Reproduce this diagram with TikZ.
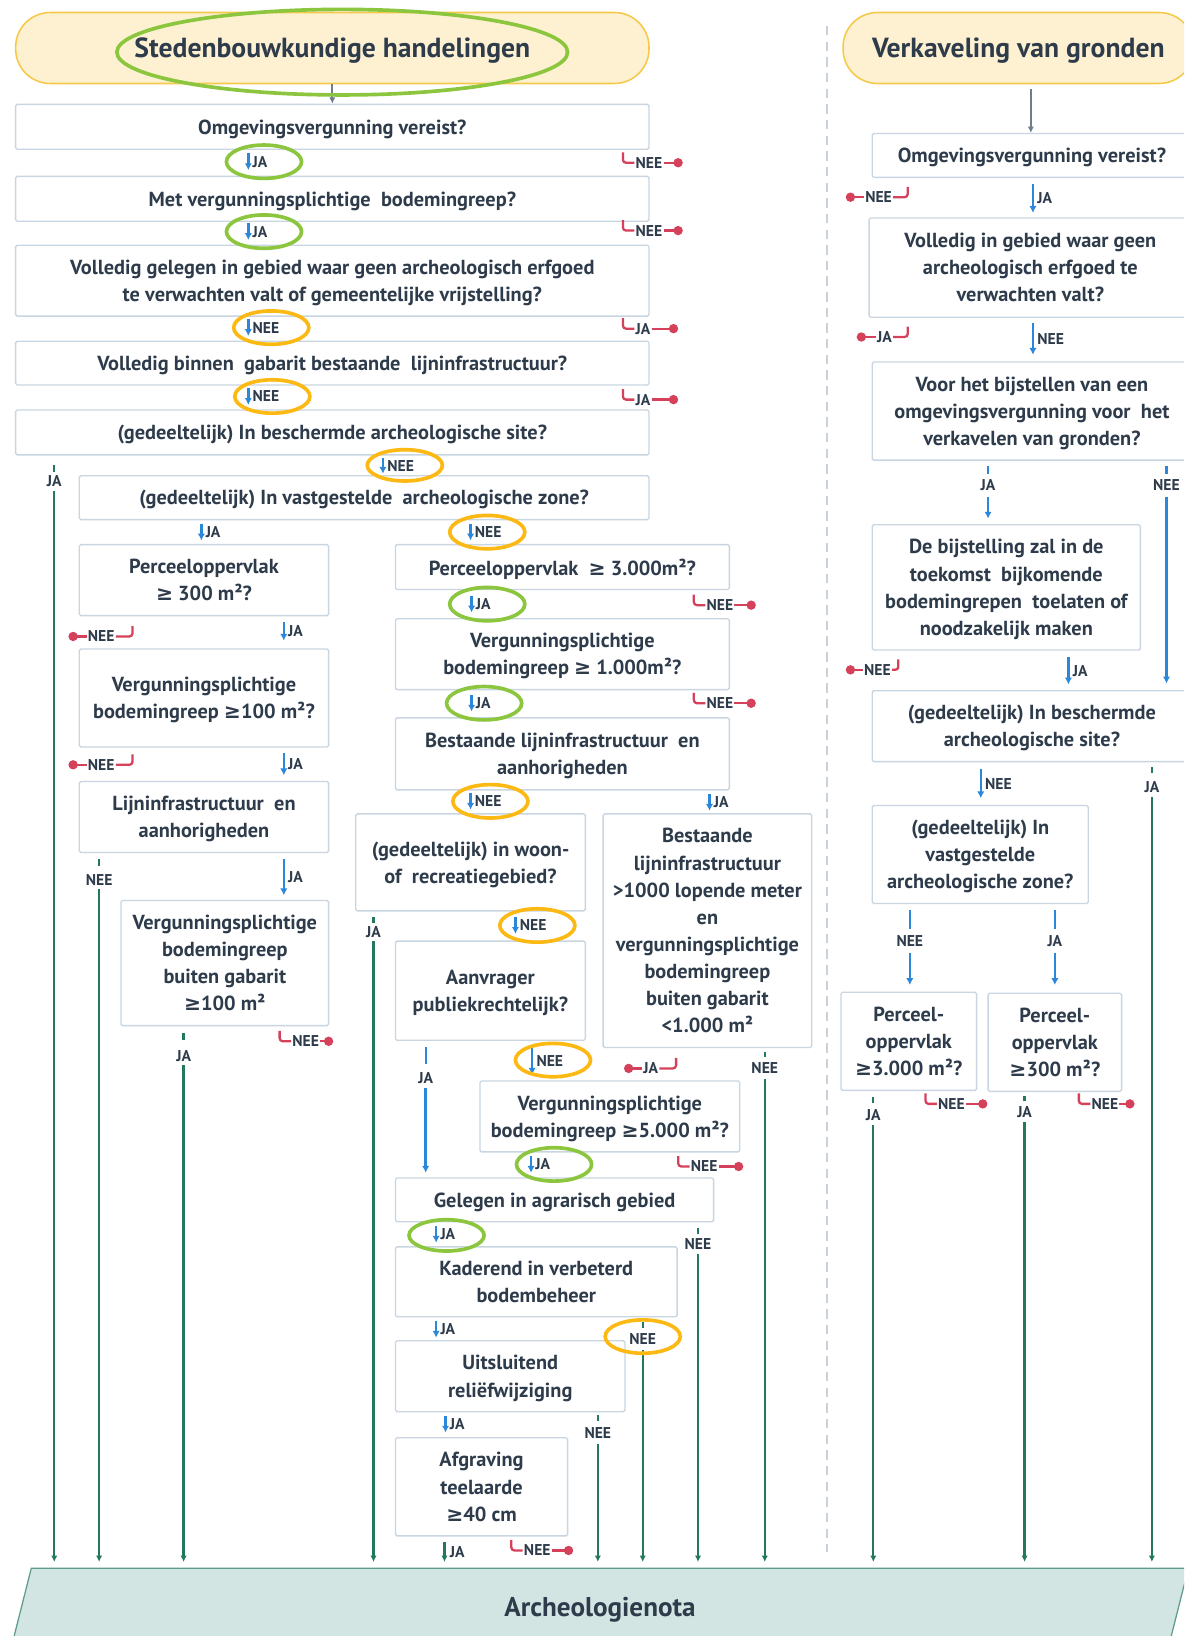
\documentclass[tikz,border=0pt]{standalone}
\usepackage{fontspec}
\setmainfont{PT Sans}
\newfontfamily\dvfont{DejaVu Sans}
\usetikzlibrary{arrows.meta}
\definecolor{txt}{HTML}{2E3B4B}
\definecolor{boxc}{HTML}{C9D5E1}
\definecolor{blu}{HTML}{2B87DA}
\definecolor{rd}{HTML}{D5415B}
\definecolor{gr}{HTML}{22795F}
\definecolor{hfill}{HTML}{FDF1D1}
\definecolor{hdraw}{HTML}{F6C94A}
\definecolor{annG}{HTML}{8CC63E}
\definecolor{annO}{HTML}{FDB913}
\definecolor{notaf}{HTML}{D3E5E2}
\definecolor{notad}{HTML}{5E9C8B}
\definecolor{dashc}{HTML}{C9D1DA}
\definecolor{grayar}{HTML}{6E7C8B}
\newcommand\GE{{\dvfont\bfseries\char"2265}}
\newcommand\dsp{\ \ }
\tikzset{
 box/.style={draw=boxc, line width=1.3pt, fill=white, rounded corners=1.5pt, align=center, inner sep=0pt, text depth=0pt, text=txt, font=\bfseries\fontsize{19.5}{26}\selectfont},
 lbl/.style={inner sep=1pt, text=txt, font=\bfseries\fontsize{15}{16}\selectfont},
 bluea/.style={draw=blu, line width=2.4pt, -{Latex[length=6.5pt,width=7pt]}},
 blueline/.style={draw=blu, line width=2.2pt},
 greenl/.style={draw=gr, line width=2.2pt},
 greena/.style={draw=gr, line width=2.2pt, -{Latex[length=6pt,width=6pt]}},
 redl/.style={draw=rd, line width=2.2pt, rounded corners=3pt},
 reddot/.style={circle, fill=rd, inner sep=0pt, minimum size=9pt},
 annog/.style={draw=annG, line width=3.5pt},
 annoo/.style={draw=annO, line width=3.5pt},
 header/.style={draw=hdraw, fill=hfill, line width=1.5pt, rounded corners=33pt, text depth=0pt, text=txt, font=\bfseries\fontsize{26.5}{30}\selectfont},
 grayarrow/.style={draw=grayar, line width=1.8pt, -{Latex[length=6pt,width=6pt]}},
}
% box: name, x1, y1, x2, y2, text
\newcommand\FBox[6]{\node[box, minimum width=#4-#2, minimum height=#5-#3] (#1) at ({(#2+#4)/2},{(#3+#5)/2}) {#6};}
% red right hook: name, hook x, y, text, line length
\newcommand\RedR[5]{%
 \draw[redl] (#2,#3-10) -- (#2,#3) -- (#2+11,#3);
 \node[lbl,anchor=west] (#1) at (#2+11,#3) {#4};
 \draw[redl] (#1.east) -- ++(#5,0) node[reddot] (#1d) {};}
% red left hook: name, hook x, y, text, line length, horizontal length
\newcommand\RedL[6]{%
 \draw[redl] (#2,#3-10) -- (#2,#3) -- (#2-#6,#3);
 \node[lbl,anchor=east] (#1) at (#2-#6,#3) {#4};
 \draw[redl] (#1.west) -- ++(-#5,0) node[reddot] (#1d) {};}
% blue arrow with label at right: name, x, y1, y2, text
\newcommand\BlueL[5]{%
 \draw[bluea] (#2,#3) -- (#2,#4);
 \node[lbl,anchor=west] (#1) at (#2+3,{(#3+#4)/2}) {#5};}
% blue tick, label, arrow: name,x,t1,t2,ty,a1,a2,text
\newcommand\BlueM[8]{%
 \draw[blueline] (#2,#3) -- (#2,#4);
 \node[lbl] (#1) at (#2,#5) {#8};
 \draw[bluea] (#2,#6) -- (#2,#7);}
% green tick, label, long arrow: name,x,t1,t2,ty,a1,text
\newcommand\GreenM[7]{%
 \draw[greenl] (#2,#3) -- (#2,#4);
 \node[lbl] (#1) at (#2,#5) {#7};
 \draw[greena] (#2,#6) -- (#2,0 |- ntop);}
\begin{document}
\begin{tikzpicture}[x=1pt,y=-1pt]
\useasboundingbox (0,0) rectangle (1135,1568);
\clip (0,0) rectangle (1135,1568);
\fill[white] (0,0) rectangle (1135,1568);
\coordinate (ntop) at (0,1497);
% dashed separator
\draw[dashc, line width=2pt, dash pattern=on 9pt off 6pt] (793,25) -- (793,1487);
% nota
\fill[notaf] (30,1503) -- (1139,1503) -- (1117,1590) -- (8,1590) -- cycle;
\draw[notad, line width=1.2pt] (8,1590) -- (30,1503) -- (1139,1503) -- (1117,1590);
\node[text=txt, text depth=0pt, font=\bfseries\fontsize{26}{30}\selectfont] (nota) at (575,1540) {Archeologienota};
% headers
\node[header, minimum width=607, minimum height=68] (h1) at (318.5,46) {Stedenbouwkundige handelingen};
\node[header, minimum width=336, minimum height=68] (h2) at (976,46) {Verkaveling van gronden};
% left column boxes
\FBox{b1}{15}{100}{622}{143}{Omgevingsvergunning vereist?}
\FBox{b2}{15}{169}{622}{212}{Met vergunningsplichtige\dsp bodemingreep?}
\FBox{b3}{15}{235}{622}{303}{Volledig gelegen in gebied waar geen archeologisch erfgoed\\te verwachten valt of gemeentelijke vrijstelling?}
\FBox{b4}{15}{327}{622}{369}{Volledig binnen\dsp gabarit bestaande\dsp lijninfrastructuur?}
\FBox{b5}{15}{393}{622}{436}{(gedeeltelijk) In beschermde archeologische site?}
\FBox{b6}{76}{456}{622}{498}{(gedeeltelijk) In vastgestelde\dsp archeologische zone?}
\FBox{l1}{76}{522}{315}{590}{Perceeloppervlak\\\GE\ 300 m²?}
\FBox{l2}{76}{622}{315}{716}{Vergunningsplichtige\\bodemingreep \GE100 m²?}
\FBox{l3}{76}{749}{315}{817}{Lijninfrastructuur\dsp en\\aanhorigheden}
\FBox{l4}{116}{863}{315}{983}{Vergunningsplichtige\\bodemingreep\\buiten gabarit\\\GE100 m²}
\FBox{m1}{379}{522}{699}{565}{Perceeloppervlak\dsp \GE\ 3.000m²?}
\FBox{m2}{379}{593}{699}{661}{Vergunningsplichtige\\bodemingreep \GE\ 1.000m²?}
\FBox{m3}{379}{688}{699}{757}{Bestaande lijninfrastructuur\dsp en\\aanhorigheden}
\FBox{m4}{341}{780}{561}{873}{(gedeeltelijk) in woon-\\of\dsp recreatiegebied?}
\FBox{m5}{578}{780}{778}{1004}{Bestaande\\lijninfrastructuur\\>1000 lopende meter\\en\\vergunningsplichtige\\bodemingreep\\buiten gabarit\\<1.000 m²}
\FBox{m6}{379}{902}{561}{997}{Aanvrager\\publiekrechtelijk?}
\FBox{m7}{460}{1036}{709}{1104}{Vergunningsplichtige\\bodemingreep \GE5.000 m²?}
\FBox{m8}{379}{1129}{684}{1171}{Gelegen in agrarisch gebied}
\FBox{m9}{379}{1195}{649}{1262}{Kaderend in verbeterd\\bodembeheer}
\FBox{m10}{379}{1285}{599}{1353}{Uitsluitend\\reliëfwijziging}
\FBox{m11}{379}{1378}{544}{1472}{Afgraving\\teelaarde\\\GE40 cm}
% right column boxes
\FBox{r1}{836}{128}{1142}{170}{Omgevingsvergunning vereist?}
\FBox{r2}{833}{209}{1142}{304}{Volledig in gebied waar geen\\archeologisch erfgoed te\\verwachten valt?}
\FBox{r3}{836}{347}{1142}{441}{Voor het bijstellen van een\\omgevingsvergunning voor\dsp het\\verkavelen van gronden?}
\FBox{r4}{836}{503}{1093}{623}{De bijstelling zal in de\\toekomst\dsp bijkomende\\bodemingrepen\dsp toelaten of\\noodzakelijk maken}
\FBox{r5}{836}{662}{1142}{730}{(gedeeltelijk) In beschermde\\archeologische site?}
\FBox{r6}{836}{772}{1043}{866}{(gedeeltelijk) In\\vastgestelde\\archeologische zone?}
\FBox{r7}{806}{951}{936}{1045}{Perceel-\\oppervlak\\\GE3.000 m²?}
\FBox{r8}{947}{952}{1075}{1046}{Perceel-\\oppervlak\\\GE300 m²?}
% gray arrows from headers
\draw[grayarrow] (h1.south) -- (b1.north);
\draw[grayarrow] (988,85) -- (988,0 |- r1.north);
% blue small arrows with labels
\BlueL{j1}{238}{147}{163}{JA}
\BlueL{j2}{238}{214}{230}{JA}
\BlueL{j3}{238}{306}{322}{NEE}
\BlueL{j4}{238}{372}{388}{NEE}
\BlueL{j5}{367}{439}{454}{NEE}
\BlueL{j6}{193}{502}{518}{JA}
\BlueL{j7}{451}{502}{518}{NEE}
\BlueL{j8}{452}{571}{587}{JA}
\BlueL{j9}{452}{666}{682}{JA}
\BlueL{j10}{451}{760}{776}{NEE}
\BlueL{j11}{680}{761}{777}{JA}
\BlueL{j12}{494}{879}{895}{NEE}
\BlueL{j13}{510}{1003}{1030}{NEE}
\BlueL{j14}{509}{1108}{1124}{JA}
\BlueL{j15}{418}{1175}{1191}{JA}
\BlueL{j16}{418}{1266}{1282}{JA}
\BlueL{j17}{427}{1357}{1373}{JA}
\BlueL{j18}{272}{596}{614}{JA}
\BlueL{j19}{272}{722}{743}{JA}
\BlueL{j20}{272}{823}{858}{JA}
\BlueL{j21}{990}{176}{204}{JA}
\BlueL{j22}{990}{310}{340}{NEE}
\BlueL{j23}{1024}{630}{656}{JA}
\BlueL{j24}{940}{737}{765}{NEE}
% blue tick-label-arrow
\BlueM{k1}{408}{1003}{1020}{1033}{1043}{1124}{JA}
\BlueM{k2}{947}{447}{454}{465}{476}{497}{JA}
\BlueM{k3}{1118}{447}{454}{465}{476}{655}{NEE}
\BlueM{k4}{872}{872}{890}{902}{913}{944}{NEE}
\BlueM{k5}{1011}{872}{890}{902}{913}{944}{JA}
% green to nota
\GreenM{g1}{52}{446}{452}{461}{471}{JA}
\GreenM{g2}{95}{823}{830}{843}{852}{NEE}
\GreenM{g3}{176}{990}{997}{1012}{1021}{JA}
\GreenM{g4}{358}{879}{885}{893}{902}{JA}
\GreenM{g5}{733}{1008}{1013}{1024}{1034}{NEE}
\GreenM{g6}{669}{1177}{1183}{1192}{1202}{NEE}
\GreenM{g7}{616}{1267}{1273}{1283}{1294}{NEE}
\GreenM{g8}{573}{1356}{1362}{1373}{1384}{NEE}
\GreenM{g9}{837}{1051}{1057}{1069}{1078}{JA}
\GreenM{g10}{982}{1050}{1055}{1066}{1075}{JA}
\GreenM{g11}{1104}{735}{741}{754}{764}{JA}
\draw[greena] (426,1478) -- (426,0 |- ntop);
\node[lbl,anchor=west] (g12) at (430,1488) {JA};
% red hooks
\RedR{n1}{597}{156}{NEE}{14}
\RedR{n2}{597}{221}{NEE}{14}
\RedR{n3}{597}{315}{JA}{21}
\RedR{n4}{597}{383}{JA}{21}
\RedR{n5}{665}{580}{NEE}{16}
\RedR{n6}{665}{674}{NEE}{16}
\RedR{n7}{650}{1118}{NEE}{19}
\RedR{n8}{268}{998}{NEE}{8}
\RedR{n9}{490}{1486}{NEE}{16}
\RedR{n10}{887}{1058}{NEE}{16}
\RedR{n11}{1034}{1058}{NEE}{10}
\RedL{n12}{127}{610}{NEE}{13}{16}
\RedL{n13}{127}{733}{NEE}{13}{16}
\RedL{n14}{648}{1024}{JA}{13}{16}
\RedL{n15}{870}{189}{NEE}{13}{14}
\RedL{n16}{870}{323}{JA}{14}{14}
\RedL{n17}{861}{642}{NEE}{12}{6}
% annotations
\draw[annog] (328,50) ellipse [x radius=216, y radius=41];
\draw[annog] (253,155) ellipse [x radius=36, y radius=16];
\draw[annog] (253,222) ellipse [x radius=36, y radius=16];
\draw[annoo] (260,314) ellipse [x radius=36, y radius=16];
\draw[annoo] (261,380) ellipse [x radius=36, y radius=16];
\draw[annoo] (388,446) ellipse [x radius=36, y radius=15];
\draw[annoo] (467,510) ellipse [x radius=36, y radius=16];
\draw[annog] (467,579) ellipse [x radius=36, y radius=16];
\draw[annog] (464,674) ellipse [x radius=36, y radius=16];
\draw[annoo] (470,768) ellipse [x radius=36, y radius=16];
\draw[annoo] (515,887) ellipse [x radius=36, y radius=16];
\draw[annoo] (530,1016) ellipse [x radius=36, y radius=16];
\draw[annog] (531,1116) ellipse [x radius=36, y radius=16];
\draw[annog] (428,1184) ellipse [x radius=36, y radius=15];
\draw[annoo] (616,1281) ellipse [x radius=36, y radius=16];
\end{tikzpicture}
\end{document}
